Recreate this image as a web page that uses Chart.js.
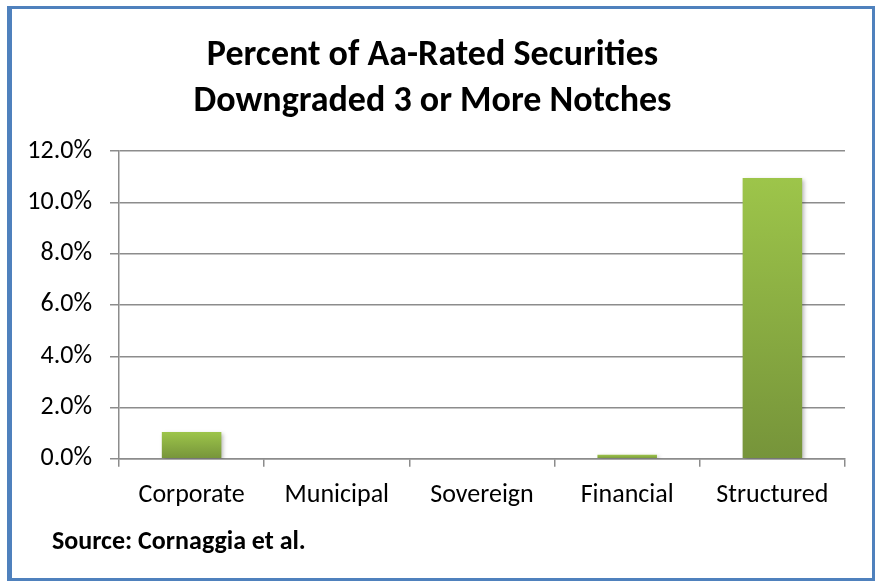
<!DOCTYPE html>
<html>
<head>
<meta charset="utf-8">
<script src="https://cdn.jsdelivr.net/npm/chart.js@4.4.1/dist/chart.umd.min.js"></script>
<style>
  html, body { margin: 0; padding: 0; background: #fff; }
  #wrap { position: relative; width: 875px; height: 581px; }
  #frame {
    position: absolute; left: 7px; top: 6px; right: 0; bottom: 0;
    border: 3px solid #4f81bd; border-left-width: 5px; pointer-events: none;
  }
  #source {
    position: absolute; left: 52px; top: 524px;
    font: bold 26px Carlito, Calibri, Lato, sans-serif; line-height: 32px;
    color: #000; white-space: nowrap;
  }
</style>
</head>
<body>
<div id="wrap">
  <canvas id="chart" width="875" height="581"></canvas>
  <div id="source"></div>
  <div id="frame"></div>
</div>
<script>
// chart data
const categories = ["Corporate", "Municipal", "Sovereign", "Financial", "Structured"];
const downgradedPct = [1.05, 0, 0, 0.16, 10.95]; // percent
const yTicks = [0, 2, 4, 6, 8, 10, 12];

const titleLines = ["Percent of Aa-Rated Securities", "Downgraded 3 or More Notches"];
const sourceText = "Source: Cornaggia et al.";

const FONT = "Carlito, Calibri, Lato, sans-serif";
const axisGray = "#8c8c8c";

document.getElementById("source").textContent = sourceText;

// gradient per bar, light at the top, darker at the base
function barFill(ctx) {
  const chart = ctx.chart;
  const y = chart.scales.y;
  if (!y || ctx.raw == null) return "#9bbb59";
  const top = y.getPixelForValue(ctx.raw);
  const base = y.getPixelForValue(0);
  if (!isFinite(top) || base - top < 1) return "#9bc44a";
  const g = chart.ctx.createLinearGradient(0, top, 0, base);
  g.addColorStop(0, "#9dc54a");
  g.addColorStop(1, "#76943a");
  return g;
}

// soft drop shadow behind the bars
const barShadow = {
  id: "barShadow",
  beforeDatasetsDraw(chart) {
    const c = chart.ctx;
    c.save();
    c.shadowColor = "rgba(0,0,0,0.28)";
    c.shadowBlur = 4;
    c.shadowOffsetX = 2;
    c.shadowOffsetY = 2;
  },
  afterDatasetsDraw(chart) {
    chart.ctx.restore();
  },
};

new Chart(document.getElementById("chart"), {
  type: "bar",
  data: {
    labels: categories,
    datasets: [
      {
        data: downgradedPct,
        backgroundColor: barFill,
        borderWidth: 0,
        barPercentage: 0.41,
        categoryPercentage: 1,
      },
    ],
  },
  plugins: [barShadow],
  options: {
    responsive: false,
    animation: false,
    layout: { padding: { left: 20, right: 30, top: 10, bottom: 57 } },
    scales: {
      x: {
        offset: true,
        grid: {
          offset: true,
          drawOnChartArea: false,
          drawTicks: true,
          tickLength: 8,
          color: axisGray,
          lineWidth: 1.5,
        },
        border: { color: axisGray, width: 1.5 },
        ticks: {
          color: "#000",
          padding: 13,
          font: { family: FONT, size: 26, lineHeight: 1.2 },
        },
      },
      y: {
        min: 0,
        max: 12,
        afterFit(scale) {
          scale.width = 119 - 20;
        },
        afterBuildTicks(scale) {
          scale.ticks = yTicks.map((v) => ({ value: v }));
        },
        grid: { color: axisGray, tickLength: 9, lineWidth: 1.5 },
        border: { color: axisGray, width: 1.5 },
        ticks: {
          color: "#000",
          padding: 18,
          font: { family: FONT, size: 26 },
          callback: (v) => v.toFixed(1) + "%",
        },
      },
    },
    plugins: {
      legend: { display: false },
      tooltip: { enabled: false },
      title: {
        display: true,
        text: titleLines,
        color: "#000",
        font: { family: FONT, size: 36, weight: "bold", lineHeight: 1.28 },
        padding: { top: 23, bottom: 26 },
      },
    },
  },
});
</script>
</body>
</html>
